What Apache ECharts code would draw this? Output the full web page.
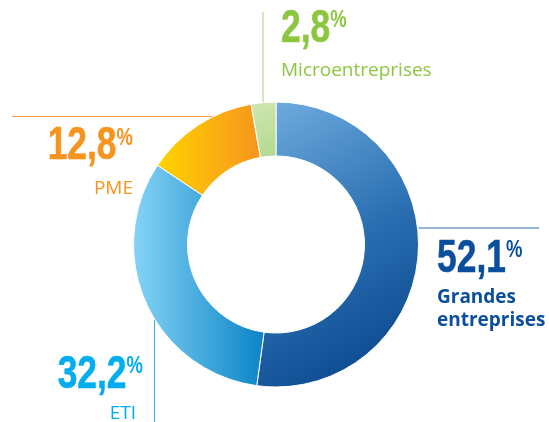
<!DOCTYPE html>
<html><head><meta charset="utf-8">
<script src="https://cdn.jsdelivr.net/npm/echarts@6/dist/echarts.min.js"></script>
<style>html,body{margin:0;padding:0;background:#fff}#c{width:549px;height:422px}</style>
</head><body><div id="c"></div>
<script>
const categories = ['Grandes entreprises', 'ETI', 'PME', 'Microentreprises'];
const values = [52.1, 32.2, 12.8, 2.8];
const labelLines = [['Grandes', 'entreprises'], ['ETI'], ['PME'], ['Microentreprises']];

const textColors = ['#0b4f9c', '#00aeef', '#f7941d', '#8dc63f'];
const fills = [
  {type:'linear', x:0, y:0, x2:1, y2:1, colorStops:[{offset:0,color:'#72aee0'},{offset:0.5,color:'#2a6fb2'},{offset:1,color:'#043f85'}]},
  {type:'linear', x:0, y:0, x2:1, y2:0, colorStops:[{offset:0,color:'#86d3f6'},{offset:1,color:'#0a84c7'}]},
  {type:'linear', x:0, y:0, x2:1, y2:0, colorStops:[{offset:0,color:'#ffd400'},{offset:1,color:'#f7941d'}]},
  {type:'linear', x:0, y:0, x2:1, y2:1, colorStops:[{offset:0,color:'#cfe7b4'},{offset:1,color:'#b3d88e'}]}
];

const cx = 276, cy = 244.5, R = 142.5, r = 88.5;
const fmt = v => v.toFixed(1).replace('.', ',');
const numFont = "'Liberation Sans', Arial, sans-serif";
const txtFont = "'Open Sans', 'Noto Sans', sans-serif";
const SX = 0.77;

// label anchors: number block edge x, number middle y, alignment, name line y's
const place = [
  {x:437, y:259, align:'left', bold:true, nameY:[298, 321]},
  {x:143, y:375, align:'right', bold:false, nameY:[414], nameX:136},
  {x:133, y:146.5, align:'right', bold:false, nameY:[188.5]},
  {x:281, y:29, align:'left', bold:false, nameY:[71]}
];

function edgeX(y, side){ const dy=y-cy; return cx + side*Math.sqrt(R*R-dy*dy); }
function edgeY(x, side){ const dx=x-cx; return cy + side*Math.sqrt(R*R-dx*dx); }

const g = [];
g.push({type:'line', shape:{x1:edgeX(228,1)+1, y1:228, x2:539, y2:228}, style:{stroke:'#2a6aad', lineWidth:1}});
g.push({type:'line', shape:{x1:154.5, y1:edgeY(154.5,1)+1, x2:154.5, y2:422}, style:{stroke:'#2db4ee', lineWidth:1}});
g.push({type:'line', shape:{x1:12, y1:116.5, x2:edgeX(116.5,-1), y2:116.5}, style:{stroke:'#f7a543', lineWidth:1}});
g.push({type:'line', shape:{x1:263, y1:12, x2:263, y2:edgeY(263,-1)}, style:{stroke:'#a9d27a', lineWidth:1}});

const ctx = document.createElement('canvas').getContext('2d');
function measure(t, font){ ctx.font = font; return ctx.measureText(t).width; }

categories.forEach((c,i)=>{
  const p = place[i];
  const num = fmt(values[i]);
  const numF = 'bold 46px ' + numFont;
  const pctF = 'bold 24px ' + numFont;
  const wNum = measure(num, numF)*SX, wPct = measure('%', pctF)*SX;
  const total = wNum + wPct;
  const x0 = p.align==='left' ? p.x : p.x - total;
  g.push({type:'text', x:x0, y:p.y, scaleX:SX, style:{text:num, font:numF, fill:textColors[i], stroke:textColors[i], lineWidth:0.6, textAlign:'left', textVerticalAlign:'middle'}});
  g.push({type:'text', x:x0+wNum, y:p.y-8.5, scaleX:SX, style:{text:'%', font:pctF, fill:textColors[i], textAlign:'left', textVerticalAlign:'middle'}});
  const nameF = (p.bold?'bold ':'') + '19px ' + txtFont;
  labelLines[i].forEach((ln, k)=>{
    g.push({type:'text', x:p.nameX || p.x, y:p.nameY[k], style:{text:ln, font:nameF, fill:textColors[i], textAlign:p.align, textVerticalAlign:'middle'}});
  });
});

const option = {
  animation:false,
  series:[{
    type:'pie', center:[cx, cy], radius:[r, R], startAngle:90, clockwise:true,
    label:{show:false}, labelLine:{show:false}, silent:true,
    itemStyle:{borderColor:'#ffffff', borderWidth:1},
    data: categories.map((c,i)=>({name:c, value:values[i], itemStyle:{color:fills[i]}}))
  }],
  graphic: g
};

const chart = echarts.init(document.getElementById('c'), null, {renderer:'canvas'});
chart.setOption(option);
</script></body></html>
